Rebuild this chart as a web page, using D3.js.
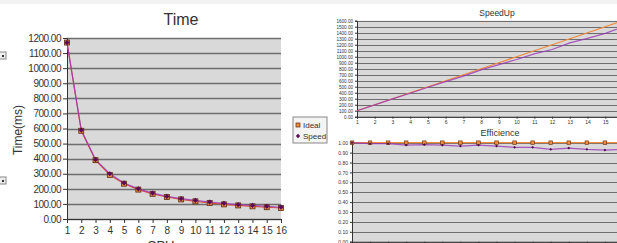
<!DOCTYPE html>
<meta charset="utf-8">
<script src="https://d3js.org/d3.v7.min.js"></script>
<style>
  body { margin: 0; background: #fff; }
  svg text { font-family: "Liberation Sans", Arial, sans-serif; fill: #333; }
</style>
<div id="chart"></div>
<script>
  // values
  var cpus = [1, 2, 3, 4, 5, 6, 7, 8, 9, 10, 11, 12, 13, 14, 15, 16];
  var timeIdeal = [1170, 585, 390, 292, 234, 195, 167, 146, 130, 117, 106, 97, 90, 84, 78, 73];
  var timeSpeed = [1170, 590, 394, 300, 239, 200, 172, 150, 135, 123, 112, 104, 95, 90, 84, 78];
  var speedIdeal = [100, 200, 300, 400, 500, 600, 700, 800, 900, 1000, 1100, 1200, 1300, 1400, 1500, 1600];
  var speedSpeed = [100, 198, 297, 390, 490, 585, 676, 780, 869, 953, 1048, 1120, 1230, 1306, 1389, 1493];
  var effIdeal = [1, 1, 1, 1, 1, 1, 1, 1, 1, 1, 1, 1, 1, 1, 1, 1];
  var effSpeed = [1, 0.99, 0.99, 0.975, 0.98, 0.975, 0.966, 0.975, 0.966, 0.953, 0.953, 0.933, 0.946, 0.933, 0.926, 0.933];
  var legendNames = ["Ideal", "Speed"];

  var orange = "#f08a3c", purple = "#9a35b8";

  var svg = d3.select("#chart").append("svg")
    .attr("width", 617).attr("height", 243);

  // faint strip along the top
  svg.append("rect").attr("x", 0).attr("y", 0).attr("width", 617).attr("height", 4).attr("fill", "#f2f2f2");

  // fragments of other legends cut by the left edge
  [52, 177].forEach(function (y) {
    svg.append("rect").attr("x", -4).attr("y", y).attr("width", 10).attr("height", 7)
      .attr("fill", "#eee").attr("stroke", "#888");
    svg.append("rect").attr("x", 2).attr("y", y + 3).attr("width", 2).attr("height", 2).attr("fill", "#333");
  });

  function drawChart(c) {
    var g = svg.append("g");
    var x = d3.scaleLinear().domain([1, 16]).range([c.left, c.right]);
    var y = d3.scaleLinear().domain(c.yDomain).range([c.bottom, c.top]);

    g.append("rect")
      .attr("x", c.left).attr("y", c.top)
      .attr("width", c.right - c.left).attr("height", c.bottom - c.top)
      .attr("fill", "#d9d9d9");

    var yTicks = d3.range(c.yDomain[0], c.yDomain[1] + c.yStep / 2, c.yStep);

    g.selectAll(".grid").data(yTicks).enter().append("line")
      .attr("x1", c.left).attr("x2", c.right)
      .attr("y1", function (d) { return Math.round(y(d)) + 0.5; })
      .attr("y2", function (d) { return Math.round(y(d)) + 0.5; })
      .attr("stroke", "#6e6e6e").attr("stroke-width", c.gridWidth);

    var yAxis = d3.axisLeft(y).tickValues(yTicks).tickSize(c.tick).tickPadding(2)
      .tickFormat(d3.format(".2f"));
    var ya = g.append("g").attr("transform", "translate(" + c.left + ",0)").call(yAxis);
    ya.select(".domain").attr("stroke", "#333");
    ya.selectAll(".tick line").attr("stroke", "#333");
    ya.selectAll("text").attr("font-size", c.yFont).attr("fill", "#444")
      .attr("letter-spacing", c.ySpacing || 0)
      .attr("font-family", "Liberation Sans, Arial, sans-serif");

    var xAxis = d3.axisBottom(x).tickValues(cpus).tickSize(c.tick).tickPadding(c.xPad)
      .tickFormat(function (d) { return c.xLabels && d <= c.xLabels ? d3.format("d")(d) : ""; });
    var xa = g.append("g").attr("transform", "translate(0," + c.bottom + ")").call(xAxis);
    xa.select(".domain").attr("stroke", "#333");
    xa.selectAll(".tick line").attr("stroke", "#333");
    xa.selectAll("text").attr("font-size", c.xFont).attr("fill", "#444")
      .attr("font-family", "Liberation Sans, Arial, sans-serif");

    var line = d3.line()
      .x(function (d, i) { return x(cpus[i]); })
      .y(function (d) { return y(d); });

    g.append("path").datum(c.ideal).attr("d", line)
      .attr("fill", "none").attr("stroke", c.idealColor || orange).attr("stroke-width", 1.2);
    g.append("path").datum(c.speed).attr("d", line)
      .attr("fill", "none").attr("stroke", purple).attr("stroke-width", 1.2).attr("opacity", 0.8);

    if (c.marker) {
      var m = c.marker;
      g.selectAll(".mi").data(c.ideal).enter().append("rect")
        .attr("x", function (d, i) { return x(cpus[i]) - m / 2; })
        .attr("y", function (d) { return y(d) - m / 2; })
        .attr("width", m).attr("height", m)
        .attr("fill", orange).attr("stroke", "#5a2a10").attr("stroke-width", 0.8);
      g.selectAll(".ms").data(c.speed).enter().append("path")
        .attr("d", d3.symbol(d3.symbolDiamond2, m * m * 0.7))
        .attr("transform", function (d, i) { return "translate(" + x(cpus[i]) + "," + y(d) + ")"; })
        .attr("fill", "#5a0a5a");
    }

    g.append("text").attr("x", c.titleX).attr("y", c.titleY)
      .attr("text-anchor", "middle").attr("font-size", c.titleFont).attr("fill", "#222")
      .text(c.title);
    return g;
  }

  var tg = drawChart({
    left: 67, right: 281, top: 38, bottom: 219,
    yDomain: [0, 1200], yStep: 100, gridWidth: 1.6, tick: 4, xPad: 4,
    yFont: "10px", ySpacing: "-0.5px", xFont: "10px", xLabels: 16,
    ideal: timeIdeal, speed: timeSpeed, marker: 5, idealColor: "#e0503a",
    title: "Time", titleX: 181, titleY: 25, titleFont: "16px"
  });
  tg.append("text").attr("transform", "translate(22,130) rotate(-90)")
    .attr("text-anchor", "middle").attr("font-size", "12px").attr("fill", "#222").text("Time(ms)");
  // axis title partly below the picture's edge, as in the reference
  tg.append("text").attr("x", 164).attr("y", 250)
    .attr("text-anchor", "middle").attr("font-size", "13px").attr("fill", "#222").text("CPUs");

  drawChart({
    left: 357, right: 623, top: 20.7, bottom: 116.7,
    yDomain: [0, 1600], yStep: 100, gridWidth: 1, tick: 2, xPad: 2,
    yFont: "4.6px", xFont: "5px", xLabels: 15,
    ideal: speedIdeal, speed: speedSpeed, marker: 0,
    title: "SpeedUp", titleX: 497, titleY: 16, titleFont: "8.5px"
  });

  var eg = drawChart({
    left: 352, right: 623, top: 142.7, bottom: 241.7,
    yDomain: [0, 1], yStep: 0.1, gridWidth: 1, tick: 2, xPad: 2,
    yFont: "5px", xFont: "5px", xLabels: 0,
    ideal: effIdeal, speed: effSpeed, marker: 0,
    title: "Efficience", titleX: 500, titleY: 136, titleFont: "9px"
  });
  var ex = d3.scaleLinear().domain([1, 16]).range([352, 623]);
  var ey = d3.scaleLinear().domain([0, 1]).range([241.7, 142.7]);
  eg.selectAll(".ei").data(effIdeal).enter().append("rect")
    .attr("x", function (d, i) { return ex(cpus[i]) - 1.8; })
    .attr("y", function (d) { return ey(d) - 1.8; })
    .attr("width", 3.6).attr("height", 3.6)
    .attr("fill", orange).attr("stroke", "#5a2a10").attr("stroke-width", 0.6);
  eg.selectAll(".es").data(effSpeed).enter().append("path")
    .attr("d", d3.symbol(d3.symbolDiamond2, 5))
    .attr("transform", function (d, i) { return "translate(" + ex(cpus[i]) + "," + ey(d) + ")"; })
    .attr("fill", "#4a0a4a");

  // legend
  var lg = svg.append("g").attr("transform", "translate(293,117)");
  lg.append("rect").attr("width", 34).attr("height", 26)
    .attr("fill", "#f4f4f4").attr("stroke", "#888").attr("stroke-width", 1);
  lg.selectAll(".lt").data(legendNames).enter().append("text")
    .attr("x", 10).attr("y", function (d, i) { return 10.5 + i * 11; })
    .attr("font-size", "8px").attr("fill", "#333").text(function (d) { return d; });
  lg.append("rect").attr("x", 3).attr("y", 6).attr("width", 4).attr("height", 4)
    .attr("fill", orange).attr("stroke", "#5a2a10").attr("stroke-width", 0.7);
  lg.append("path").attr("d", d3.symbol(d3.symbolDiamond2, 12))
    .attr("transform", "translate(5,19)").attr("fill", "#5a0a5a");
</script>
